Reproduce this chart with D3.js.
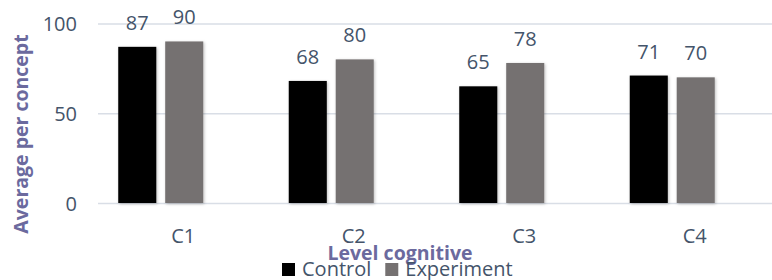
<!DOCTYPE html>
<html><head><meta charset="utf-8">
<script src="https://cdn.jsdelivr.net/npm/d3@7"></script>
<style>body{margin:0;background:#fff}svg{display:block}</style>
</head><body>
<script>
const categories = ["C1","C2","C3","C4"];
const seriesNames = ["Control","Experiment"];
const control = [87,68,65,71];
const experiment = [90,80,78,70];
const yTicks = [0,50,100];
const colors = ["#000000","#757171"];

const W=772,H=280;
const svg=d3.select("body").append("svg").attr("width",W).attr("height",H);
const defs=svg.append("defs");
const f=defs.append("filter").attr("id","sh").attr("x","-20%").attr("y","-20%").attr("width","140%").attr("height","140%");
f.append("feDropShadow").attr("dx",1).attr("dy",1).attr("stdDeviation",1.5).attr("flood-color","#000").attr("flood-opacity",0.25);

const font="'Open Sans', sans-serif", txt="#44546a", ttl="#6b6a9e";
const y=d3.scaleLinear().domain([0,100]).range([203,23.5]);
const x=d3.scaleBand().domain(categories).range([98,780]);
const barOffset=-22.5;
const xs=d3.scaleBand().domain(seriesNames).range([0,85]).paddingInner(0.19);

// gridlines
svg.append("g").selectAll("line").data(yTicks).join("line")
  .attr("x1",98).attr("x2",W).attr("y1",d=>y(d)+0.5).attr("y2",d=>y(d)+0.5)
  .attr("stroke","#d9dee6").attr("stroke-width",1.5);

// y tick labels
svg.append("g").selectAll("text").data(yTicks).join("text")
  .attr("x",77).attr("y",d=>y(d)+7.5).attr("text-anchor","end")
  .attr("font-family",font).attr("font-size",20).attr("fill",txt).text(d=>d);

const data=categories.map((c,i)=>({c,vals:[control[i],experiment[i]]}));
const g=svg.append("g").selectAll("g").data(data).join("g")
  .attr("transform",d=>`translate(${x(d.c)+x.bandwidth()/2-42.5+barOffset},0)`);
g.selectAll("rect").data(d=>d.vals.map((v,j)=>({v,s:seriesNames[j],j}))).join("rect")
  .attr("x",d=>xs(d.s)).attr("width",xs.bandwidth())
  .attr("y",d=>y(d.v)).attr("height",d=>y(0)-y(d.v))
  .attr("fill",d=>colors[d.j]).attr("filter","url(#sh)");
g.selectAll("text").data(d=>d.vals.map((v,j)=>({v,s:seriesNames[j],j}))).join("text")
  .attr("x",d=>xs(d.s)+xs.bandwidth()/2).attr("y",d=>y(d.v)-17)
  .attr("text-anchor","middle").attr("font-family",font).attr("font-size",20)
  .attr("fill",txt).text(d=>d.v);

// category labels
svg.append("g").selectAll("text").data(categories).join("text")
  .attr("x",d=>x(d)+x.bandwidth()/2).attr("y",243).attr("text-anchor","middle")
  .attr("font-family",font).attr("font-size",20).attr("fill",txt).text(d=>d);

// axis titles
svg.append("text").attr("x",400).attr("y",260).attr("text-anchor","middle")
  .attr("font-family",font).attr("font-weight","bold").attr("font-size",19.5)
  .attr("fill",ttl).text("Level cognitive");
svg.append("text").attr("transform","translate(28,134) rotate(-90)").attr("text-anchor","middle")
  .attr("font-family",font).attr("font-weight","bold").attr("font-size",19.5)
  .attr("fill",ttl).text("Average per concept");

// legend
const leg=svg.append("g");
let lx=282;
seriesNames.forEach((s,i)=>{
  leg.append("rect").attr("x",lx).attr("y",263).attr("width",13).attr("height",13).attr("fill",colors[i]);
  const t=leg.append("text").attr("x",lx+20).attr("y",276).attr("font-family",font).attr("font-size",20)
    .attr("fill",txt).text(s);
  lx+=20+t.node().getComputedTextLength()+14;
});
</script>
</body></html>
